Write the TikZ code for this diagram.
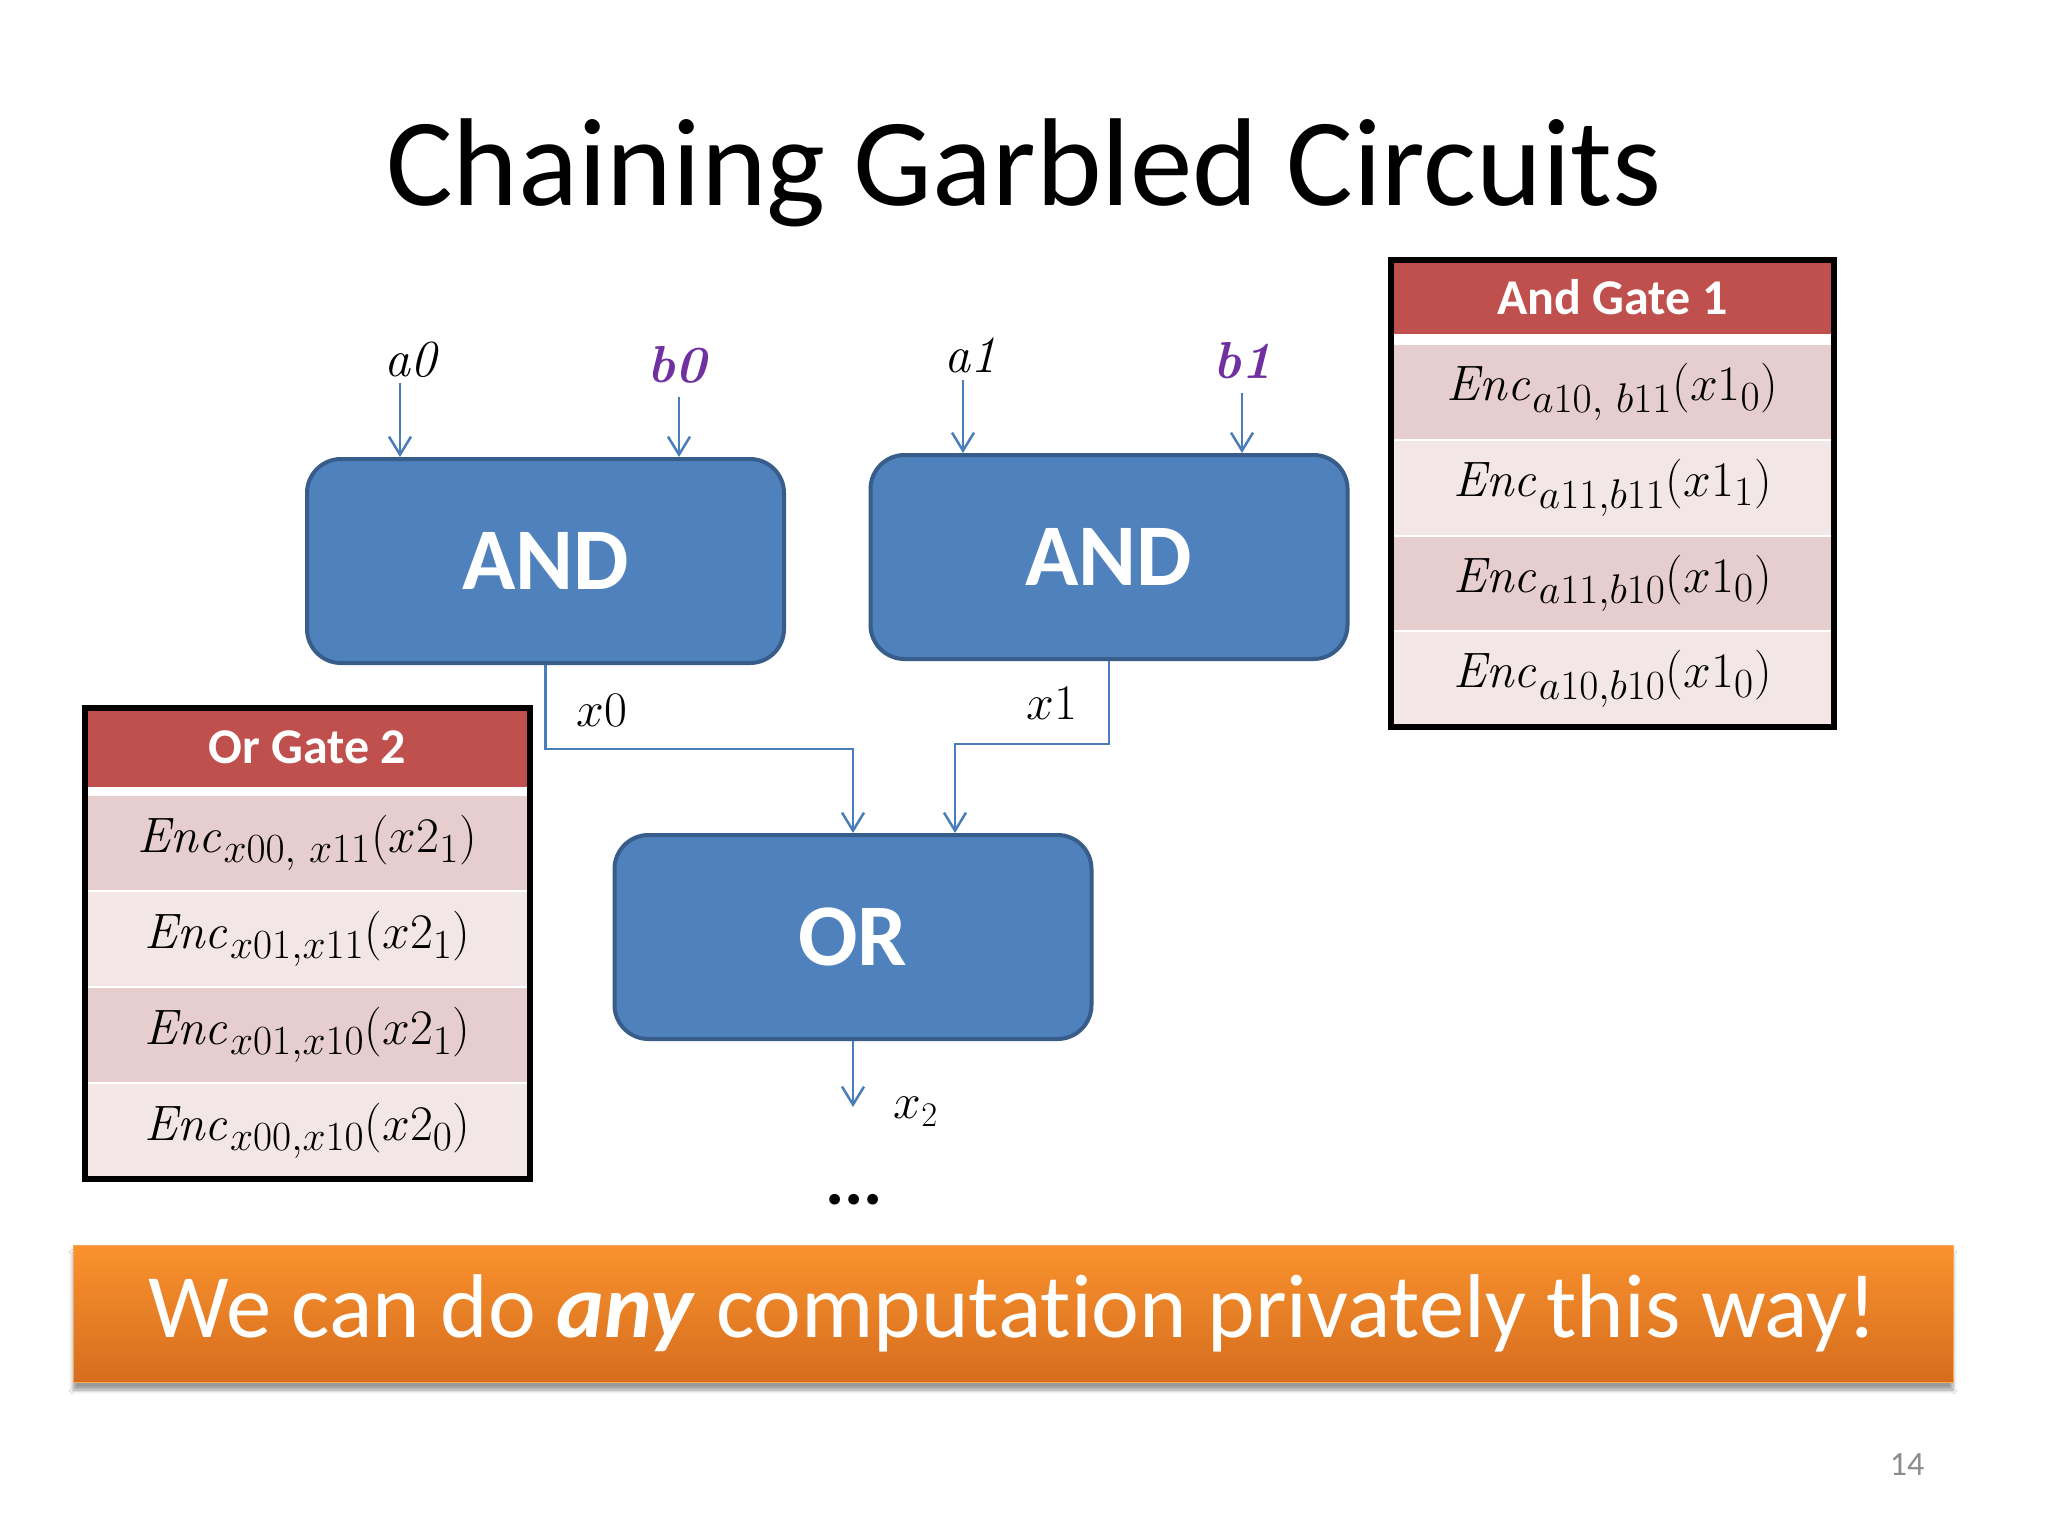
\documentclass[tikz,border=0pt]{standalone}
\usepackage[no-math]{fontspec}
\setmainfont[Ligatures=NoCommon]{Carlito}
\newfontfamily\lmfam{Latin Modern Roman}
\usetikzlibrary{arrows.meta,calc,shadows.blur}
\definecolor{boxfill}{HTML}{4F81BD}
\definecolor{boxline}{HTML}{385D8A}
\definecolor{wirec}{HTML}{4A7EBB}
\definecolor{hdr}{HTML}{C0504D}
\definecolor{rowA}{HTML}{E6CDCE}
\definecolor{rowB}{HTML}{F2E6E7}
\definecolor{purp}{HTML}{7030A0}
\definecolor{orTop}{HTML}{F9922E}
\definecolor{orBot}{HTML}{D66D1E}
\definecolor{pgnum}{HTML}{8C8C8C}
\tikzset{
  gate/.style={draw=boxline, line width=2pt, fill=boxfill, rounded corners=17pt,
    minimum width=238.5pt, minimum height=102pt, inner sep=0pt, text=white,
    font=\fontsize{44}{50}\selectfont\bfseries},
  wire/.style={draw=wirec, line width=1.25pt, -{Straight Barb[length=9pt,width=11pt,line width=1.25pt]}},
  lbl/.style={inner sep=0pt, font=\fontsize{26}{30}\selectfont},
  hdrcell/.style={fill=hdr, draw=none, inner sep=0pt, minimum width=221.5pt, text=white,
    font=\fontsize{25}{30}\selectfont\bfseries},
  cellA/.style={fill=rowA, draw=white, line width=1pt, inner sep=0pt, minimum width=221.5pt, minimum height=47.9pt,
    font=\fontsize{29}{32}\selectfont},
  cellB/.style={cellA, fill=rowB},
  tborder/.style={draw=black, line width=3pt},
}
\begin{document}
\begin{tikzpicture}[x=0.5pt, y=-0.5pt]
\useasboundingbox (0,0) rectangle (2048,1536);
\fill[white] (0,0) rectangle (2048,1536);

% title
\node[anchor=base, inner sep=0pt, font=\fontsize{62.5}{70}\selectfont] (title) at (1024,205) {Chaining Garbled Circuits};

% gates
\node[gate] (and1) at (545.5,561) {AND};
\node[gate] (and2) at (1109,557) {AND};
\node[gate] (or) at (853,937) {OR};

% input labels
\node[lbl] (a0) at (410,360) {\lmfam\itshape a0};
\node[lbl, text=purp] (b0) at (677,365) {\lmfam\bfseries\itshape b0};
\node[lbl] (a1) at (970,355) {\lmfam\itshape a1};
\node[lbl, text=purp] (b1) at (1243,361) {\lmfam\bfseries\itshape b1};

\coordinate (a0s) at (400,383);
\coordinate (b0s) at (679,397);
\coordinate (a1s) at (963,380);
\coordinate (b1s) at (1242,393);
\draw[wire] (a0s) -- (a0s |- and1.north);
\draw[wire] (b0s) -- (b0s |- and1.north);
\draw[wire] (a1s) -- (a1s |- and2.north);
\draw[wire] (b1s) -- (b1s |- and2.north);

% internal wires
\coordinate (j0) at (853,749);
\coordinate (j1) at (955,744);
\draw[wire] (and1.south) |- (j0) -- (j0 |- or.north);
\draw[wire] (and2.south) |- (j1) -- (j1 |- or.north);
\node[lbl] (x0) at (602,710) {$x0$};
\node[lbl] (x1) at (1052,703) {$x1$};

\coordinate (x2end) at (853,1107);
\draw[wire] (or.south) -- (x2end);
\node[lbl] (x2) at (916,1112) {$x_2$};

\node[inner sep=0pt, font=\fontsize{36}{40}\selectfont\bfseries] (dots) at (854,1200) {...};

% And Gate 1 table
\fill[white] (1391,260) rectangle (1834,727);
\node[hdrcell, minimum height=37pt] (t1h) at (1612.5,297) {And Gate 1};
\node[cellA] (t1r1) at (1612.5,391.9) {$\mathit{Enc}_{a10,\ b11}(x1_0)$};
\node[cellB] (t1r2) at (1612.5,487.6) {$\mathit{Enc}_{a11{,}b11}(x1_1)$};
\node[cellA] (t1r3) at (1612.5,583.4) {$\mathit{Enc}_{a11{,}b10}(x1_0)$};
\node[cellB] (t1r4) at (1612.5,679.1) {$\mathit{Enc}_{a10{,}b10}(x1_0)$};
\draw[tborder] (1391,260) rectangle (1834,727);

% Or Gate 2 table
\fill[white] (85,708) rectangle (530,1179);
\node[hdrcell, minimum width=222.5pt, minimum height=39.5pt] (t2h) at (307.5,747.5) {Or Gate 2};
\node[cellA, minimum width=222.5pt] (t2r1) at (307.5,843) {$\mathit{Enc}_{x00,\ x11}(x2_1)$};
\node[cellB, minimum width=222.5pt] (t2r2) at (307.5,939) {$\mathit{Enc}_{x01{,}x11}(x2_1)$};
\node[cellA, minimum width=222.5pt] (t2r3) at (307.5,1035) {$\mathit{Enc}_{x01{,}x10}(x2_1)$};
\node[cellB, minimum width=222.5pt] (t2r4) at (307.5,1131) {$\mathit{Enc}_{x00{,}x10}(x2_0)$};
\draw[tborder] (85,708) rectangle (530,1179);

% banner
\node[minimum width=940pt, minimum height=68.5pt, inner sep=0pt, top color=orTop, bottom color=orBot,
  draw=orTop!80!white, line width=0.5pt,
  blur shadow={shadow xshift=0pt, shadow yshift=-4pt, shadow blur steps=6, shadow opacity=40},
  text=white, font=\fontsize{45.3}{50}\selectfont] (ban) at (1013,1313.5)
  {We can do \textbf{\textit{any}} computation privately this way!};

% page number
\node[inner sep=0pt, text=pgnum, font=\fontsize{17}{20}\selectfont] (pg) at (1907,1465) {14};
\end{tikzpicture}
\end{document}
